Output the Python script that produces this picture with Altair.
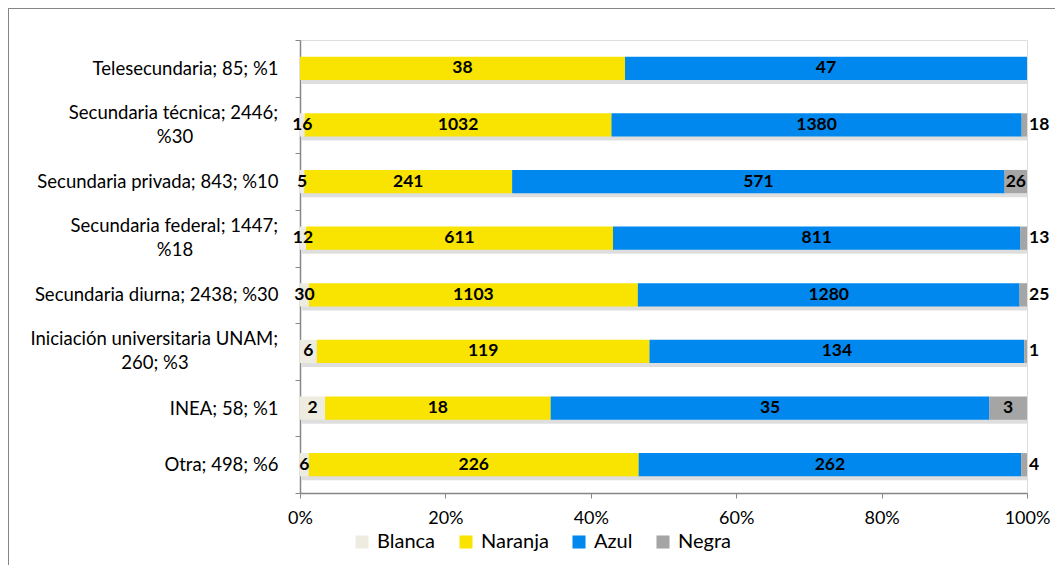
import altair as alt
import pandas as pd

categories = [
    "Telesecundaria; 85; %1",
    "Secundaria técnica; 2446;|%30",
    "Secundaria privada; 843; %10",
    "Secundaria federal; 1447;|%18",
    "Secundaria diurna; 2438; %30",
    "Iniciación universitaria UNAM;|260; %3",
    "INEA; 58; %1",
    "Otra; 498; %6",
]
series = ["Blanca", "Naranja", "Azul", "Negra"]
blanca = [0, 16, 5, 12, 30, 6, 2, 6]
naranja = [38, 1032, 241, 611, 1103, 119, 18, 226]
azul = [47, 1380, 571, 811, 1280, 134, 35, 262]
negra = [0, 18, 26, 13, 25, 1, 3, 4]
colors = ["#EEECE1", "#F8E400", "#0088EE", "#A5A5A5"]

rows = []
for i, cat in enumerate(categories):
    vals = [blanca[i], naranja[i], azul[i], negra[i]]
    tot = sum(vals)
    acc = 0
    for s, v in zip(series, vals):
        start = acc / tot
        acc += v
        end = acc / tot
        rows.append({"cat": cat, "serie": s, "order": series.index(s), "value": v,
                     "start": start, "end": end, "mid": (start + end) / 2,
                     "share": v / tot,
                     "outside": (s == "Negra") and (v / tot < 0.02)})
df = pd.DataFrame(rows)
tot_df = pd.DataFrame({"cat": categories, "s0": [0.0] * len(categories), "s1": [1.0] * len(categories)})
multi_cats = [c for c in categories if "|" in c]
lines_df = pd.DataFrame({"cat": multi_cats,
                         "line1": [c.split("|")[0] for c in multi_cats],
                         "line2": [c.split("|")[1] for c in multi_cats]})

ysc = alt.Scale(domain=categories, paddingInner=0, paddingOuter=0)
yenc = alt.Y("cat:N", sort=categories, scale=ysc,
             axis=alt.Axis(title=None,
                           labelExpr="indexof(datum.label, '|') >= 0 ? '' : datum.label",
                           labelFontSize=18.5, labelPadding=17, labelColor="#000",
                           tickBand="extent", tickSize=5, tickColor="#868686",
                           domainColor="#868686", domainWidth=1.5, labelLimit=400))
xsc = alt.Scale(domain=[0, 1], nice=False)

frame = alt.Chart(pd.DataFrame({"a": [0]})).mark_rect(
    fill=None, stroke="#868686", strokeWidth=2
).encode(x=alt.value(-292), x2=alt.value(800), y=alt.value(-32), y2=alt.value(600))

shadow = alt.Chart(tot_df).mark_bar(
    height=alt.RelativeBandSize(0.41), color="#000", opacity=0.13, yOffset=4, xOffset=2
).encode(y=yenc, x=alt.X("s0:Q", scale=xsc), x2="s1:Q")

bars = alt.Chart(df).mark_bar(height=alt.RelativeBandSize(0.41)).encode(
    y=yenc,
    x=alt.X("start:Q", scale=xsc,
            axis=alt.Axis(title=None, format="%", values=[0, 0.2, 0.4, 0.6, 0.8, 1.0],
                          labelFontSize=18, labelColor="#000", labelFlush=False,
                          tickSize=5, tickColor="#868686", domainColor="#868686",
                          domainWidth=1.5, labelPadding=11, grid=False)),
    x2="end:Q",
    color=alt.Color("serie:N", scale=alt.Scale(domain=series, range=colors),
                    legend=alt.Legend(title=None, orient="none", direction="horizontal",
                                      legendX=52, legendY=492, symbolType="square",
                                      symbolSize=170, symbolStrokeWidth=0,
                                      labelFontSize=20, labelColor="#000",
                                      columnPadding=20, labelOffset=5)),
    order="order:Q",
)

txt_c = alt.Chart(df).transform_filter(
    (alt.datum.value > 0) & (~alt.datum.outside)
).mark_text(fontWeight="bold", fontSize=17.5, align="center", baseline="middle", color="#000").encode(
    y=yenc, x=alt.X("mid:Q", scale=xsc), text="value:Q"
)
txt_r = alt.Chart(df).transform_filter(
    (alt.datum.value > 0) & (alt.datum.outside)
).mark_text(fontWeight="bold", fontSize=17.5, align="left", baseline="middle", dx=2, color="#000").encode(
    y=yenc, x=alt.X("end:Q", scale=xsc), text="value:Q"
)

line1 = alt.Chart(lines_df).mark_text(
    fontSize=18.5, align="right", baseline="middle", dy=-12, color="#000"
).encode(y=yenc, x=alt.value(-22), text="line1:N")
line2_a = alt.Chart(lines_df).transform_filter(
    "indexof(datum.cat, 'UNAM') < 0"
).mark_text(fontSize=18.5, align="center", baseline="middle", dy=12, color="#000").encode(
    y=yenc, x=alt.value(-125), text="line2:N"
)
line2_b = alt.Chart(lines_df).transform_filter(
    "indexof(datum.cat, 'UNAM') >= 0"
).mark_text(fontSize=18.5, align="center", baseline="middle", dy=12, color="#000").encode(
    y=yenc, x=alt.value(-145), text="line2:N"
)

chart = alt.layer(frame, shadow, bars, txt_c, txt_r, line1, line2_a, line2_b).properties(
    width=727, height=453,
    padding={"left": 292, "top": 32, "right": 28, "bottom": 72},
    autosize=alt.AutoSizeParams(type="none"),
).configure_view(stroke=None).configure(font="Lato")

chart.save("out.html", embed_options={"renderer": "svg", "actions": False})
